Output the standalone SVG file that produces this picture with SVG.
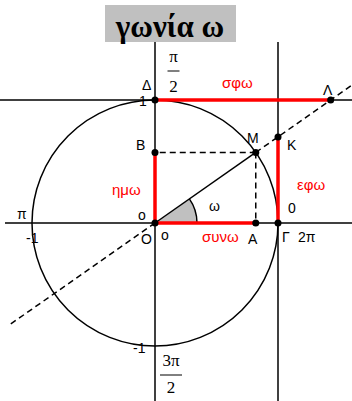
<svg xmlns="http://www.w3.org/2000/svg" width="352" height="401" viewBox="0 0 352 401">
<style>
.ax{stroke:#000;stroke-width:1.5;fill:none}
.dash{stroke:#000;stroke-width:1.5;stroke-dasharray:6 4;fill:none}
.red{stroke:#ff0000;stroke-width:3.5;fill:none}
.dot{fill:#000}
.lb{font-family:"Liberation Sans",Arial,sans-serif;font-size:14px;fill:#000}
.rl{font-family:"Liberation Sans",Arial,sans-serif;font-size:15px;fill:#ff0000}
.tx{font-family:"Liberation Serif","Times New Roman",serif;font-size:17px;fill:#000}
</style>
<rect width="352" height="401" fill="#fff"/>
<g id="title">
<rect x="105" y="5" width="131" height="37" fill="#c0c0c0"/>
<text x="170" y="37" text-anchor="middle" font-family="Liberation Serif, serif" font-weight="bold" font-size="31">γωνία ω</text>
</g>
<g id="connectors">
<line class="ax" x1="5" y1="223" x2="352" y2="223"/>
<line class="ax" x1="0" y1="100" x2="352" y2="100"/>
<line class="ax" x1="155" y1="42" x2="155" y2="401"/>
<line class="ax" x1="278" y1="42" x2="278" y2="401"/>
<circle class="ax" cx="155" cy="223" r="123"/>
<path d="M155,223 L197,223 A42,42 0 0 0 189.4,198.9 Z" fill="#c0c0c0" stroke="none"/>
<path d="M197,223 A42,42 0 0 0 189.4,198.9" class="ax" stroke-width="1.2"/>
<line class="ax" x1="155" y1="223" x2="255.76" y2="152.45"/>
<line class="dash" x1="255.76" y1="152.45" x2="352" y2="85.06"/>
<line class="dash" x1="155" y1="223" x2="8" y2="325.9"/>
<line class="dash" x1="255.76" y1="152.45" x2="155" y2="152.45"/>
<line class="dash" x1="255.76" y1="152.45" x2="255.76" y2="223"/>
<line class="red" x1="155" y1="100" x2="330.66" y2="100"/>
<line class="red" x1="155" y1="223" x2="155" y2="152.45"/>
<line class="red" x1="155" y1="223" x2="255.76" y2="223"/>
<line class="red" x1="278" y1="223" x2="278" y2="136.88"/>
</g>
<g id="Delta"><circle class="dot" cx="155" cy="100" r="3.5"/><text class="lb" x="142" y="90">Δ</text><text class="lb" x="139" y="106" font-size="12">1</text></g>
<g id="Lambda"><circle class="dot" cx="330.66" cy="100" r="3.5"/><text class="lb" x="323" y="95">Λ</text></g>
<g id="B"><circle class="dot" cx="155" cy="152.45" r="3.5"/><text class="lb" x="136" y="150">Β</text></g>
<g id="M"><circle class="dot" cx="255.76" cy="152.45" r="3.5"/><text class="lb" x="247" y="143">Μ</text></g>
<g id="K"><circle class="dot" cx="278" cy="136.88" r="3.5"/><text class="lb" x="287" y="150">Κ</text></g>
<g id="O"><circle class="dot" cx="155" cy="223" r="3.5"/><text class="lb" x="141" y="244">O</text><text class="lb" x="138" y="220">o</text><text class="lb" x="161" y="240">o</text></g>
<g id="A"><circle class="dot" cx="255.76" cy="223" r="3.5"/><text class="lb" x="248" y="244">Α</text></g>
<g id="Gamma"><circle class="dot" cx="278" cy="223" r="3.5"/><text class="lb" x="282" y="242">Γ</text><text class="lb" x="298" y="242">2π</text><text class="lb" x="288" y="213">0</text></g>
<g id="labels">
<text class="rl" x="222" y="88">σφω</text>
<text class="rl" x="112" y="195">ημω</text>
<text class="rl" x="202" y="242">συνω</text>
<text class="rl" x="297" y="190">εφω</text>
<text class="lb" x="209" y="211">ω</text>
<text class="lb" x="17" y="219">π</text>
<text class="lb" x="26" y="243">-1</text>
<text class="lb" x="133" y="353">-1</text>
<text class="tx" x="173.5" y="62" text-anchor="middle">π</text>
<line x1="167.5" y1="71" x2="179.5" y2="71" stroke="#000" stroke-width="1"/>
<text class="tx" x="173.5" y="92" text-anchor="middle">2</text>
<text class="tx" x="171" y="366" text-anchor="middle">3π</text>
<line x1="160" y1="375" x2="182" y2="375" stroke="#000" stroke-width="1"/>
<text class="tx" x="171" y="393" text-anchor="middle">2</text>
</g>
</svg>
